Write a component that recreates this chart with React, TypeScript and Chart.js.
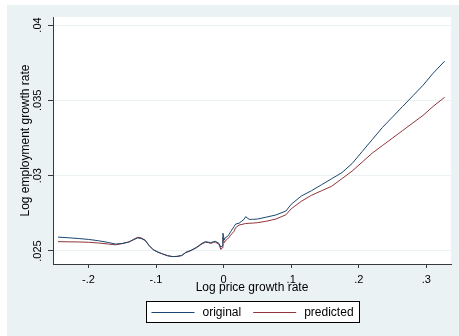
import React, { useEffect, useRef } from "react";
import { Chart, registerables } from "chart.js";

Chart.register(...registerables);

// ---- data ----
const priceGrowth = [
  -0.245, -0.23, -0.215, -0.2, -0.185, -0.17, -0.16, -0.15, -0.14, -0.133,
  -0.127, -0.122, -0.116, -0.11, -0.104, -0.097, -0.09, -0.083, -0.076, -0.069,
  -0.062, -0.056, -0.048, -0.04, -0.032, -0.027, -0.022, -0.019, -0.015, -0.012,
  -0.007, -0.004, -0.002, -0.001, 0.001, 0.003, 0.0055, 0.008, 0.0104, 0.0153,
  0.0178, 0.0228, 0.0302, 0.0327, 0.0377, 0.0426, 0.05, 0.0624, 0.0773, 0.0921,
  0.1, 0.115, 0.13, 0.145, 0.16, 0.175, 0.19, 0.205, 0.22, 0.235,
  0.25, 0.265, 0.28, 0.295, 0.31, 0.327,
];

const original = [
  0.02592, 0.02588, 0.02583, 0.02577, 0.02568, 0.02556, 0.02546, 0.0255, 0.0256, 0.02575,
  0.02587, 0.02583, 0.0257, 0.02535, 0.02508, 0.02492, 0.0248, 0.02469, 0.02463, 0.02464,
  0.0247, 0.02491, 0.02505, 0.02525, 0.02551, 0.02562, 0.02558, 0.02555, 0.02562, 0.02564,
  0.02551, 0.02525, 0.02535, 0.02618, 0.02573, 0.0259, 0.02595, 0.0261, 0.02628, 0.02661,
  0.02679, 0.02684, 0.0271, 0.02728, 0.0271, 0.0271, 0.02712, 0.02724, 0.02739, 0.02765,
  0.0281, 0.02865, 0.029, 0.0294, 0.0298, 0.0302, 0.0308, 0.0316, 0.0324, 0.0332,
  0.0339, 0.0346, 0.0353, 0.036, 0.0368, 0.0376,
];

const predicted = [
  0.02562, 0.02561, 0.0256, 0.02558, 0.02553, 0.02546, 0.02541, 0.02549, 0.0256, 0.02578,
  0.02591, 0.02587, 0.02572, 0.02535, 0.02508, 0.02492, 0.0248, 0.02469, 0.02463, 0.02464,
  0.0247, 0.02489, 0.02503, 0.02522, 0.02547, 0.02558, 0.02555, 0.0255, 0.02558, 0.02558,
  0.02545, 0.0251, 0.02522, 0.0259, 0.02555, 0.0257, 0.02578, 0.0259, 0.02605, 0.0263,
  0.02655, 0.02672, 0.0268, 0.02682, 0.02684, 0.02685, 0.02688, 0.02697, 0.02712, 0.0274,
  0.0278, 0.0283, 0.0287, 0.029, 0.0293, 0.0298, 0.0303, 0.0309, 0.0315, 0.032,
  0.0325, 0.033, 0.0335, 0.034, 0.0346, 0.0352,
];

const seriesNames = ["original", "predicted"];
const xTickValues = [-0.2, -0.1, 0, 0.1, 0.2, 0.3];
const xTickLabels = ["-.2", "-.1", "0", ".1", ".2", ".3"];
const yTickValues = [0.025, 0.03, 0.035, 0.04];
const yTickLabels = [".025", ".03", ".035", ".04"];

const xTitle = "Log price growth rate";
const yTitle = "Log employment growth rate";

// ---- styles ----
const W = 459;
const H = 336;
const FONT = "'Liberation Sans', Arial, sans-serif";
const NAVY = "#1A476F";
const MAROON = "#90353B";
const BLUISH = "#EAF2F3";
const AXIS = "#3a3a3a";

const bgPlugin = {
  id: "stataBg",
  beforeDraw(chart: any) {
    const { ctx, chartArea: a } = chart;
    ctx.save();
    ctx.fillStyle = "#ffffff";
    ctx.fillRect(0, 0, chart.width, chart.height);
    ctx.fillStyle = BLUISH;
    ctx.fillRect(7, 5, chart.width - 7, chart.height - 5);
    ctx.fillStyle = "#ffffff";
    ctx.fillRect(a.left, a.top, a.right - a.left, a.bottom - a.top);
    ctx.restore();
  },
};

const legendPlugin = {
  id: "boxLegend",
  afterDraw(chart: any) {
    const { ctx, chartArea: a } = chart;
    const ds = chart.data.datasets;
    ctx.save();
    ctx.font = `12px ${FONT}`;
    const padL = 5, sample = 43, gap = 8, between = 12, padR = 6;
    const widths = ds.map((d: any) => ctx.measureText(d.label).width);
    let total = padL + padR + between * (ds.length - 1);
    ds.forEach((_: any, i: number) => (total += sample + gap + widths[i]));
    total = Math.round(total);
    const cx = (a.left + a.right) / 2;
    const left = Math.round(cx - total / 2) + 0.5;
    const top = Math.round(chart.scales.x.bottom + 5) + 0.5;
    const h = 21;
    ctx.fillStyle = "#ffffff";
    ctx.fillRect(left, top, total, h);
    ctx.strokeStyle = "#000000";
    ctx.lineWidth = 1;
    ctx.strokeRect(left, top, total, h);
    let x = left + padL;
    const ly = Math.round(top + h / 2);
    ds.forEach((d: any, i: number) => {
      ctx.strokeStyle = d.borderColor;
      ctx.lineWidth = 1;
      ctx.beginPath();
      ctx.moveTo(x, ly + 0.5);
      ctx.lineTo(x + sample, ly + 0.5);
      ctx.stroke();
      ctx.fillStyle = "#000000";
      ctx.textBaseline = "middle";
      ctx.textAlign = "left";
      ctx.fillText(d.label, x + sample + gap, ly + 1);
      x += sample + gap + widths[i] + between;
    });
    ctx.restore();
  },
};

export default function App() {
  const ref = useRef<HTMLCanvasElement | null>(null);

  useEffect(() => {
    if (!ref.current) return;
    const chart = new Chart(ref.current, {
      type: "line",
      data: {
        datasets: [
          {
            label: seriesNames[0],
            data: priceGrowth.map((x, i) => ({ x, y: original[i] })),
            borderColor: NAVY,
            borderWidth: 1,
            pointRadius: 0,
            tension: 0,
            fill: false,
          },
          {
            label: seriesNames[1],
            data: priceGrowth.map((x, i) => ({ x, y: predicted[i] })),
            borderColor: MAROON,
            borderWidth: 1,
            pointRadius: 0,
            tension: 0,
            fill: false,
          },
        ],
      },
      options: {
        responsive: false,
        animation: false,
        devicePixelRatio: 1,
        layout: { padding: { left: 0, top: 17, right: 8, bottom: 40 } },
        plugins: {
          legend: { display: false },
          tooltip: { enabled: false },
        },
        scales: {
          x: {
            type: "linear",
            min: -0.2524,
            max: 0.3364,
            afterBuildTicks: (s: any) => {
              s.ticks = xTickValues.map((v) => ({ value: v }));
            },
            afterFit: (s: any) => {
              s.height = 32;
            },
            ticks: {
              callback: (v: any) => xTickLabels[xTickValues.indexOf(Number(v))] ?? "",
              font: { family: FONT, size: 11 },
              color: "#000000",
              padding: 5,
              maxRotation: 0,
              autoSkip: false,
            },
            grid: {
              drawOnChartArea: false,
              drawTicks: true,
              tickLength: 4,
              tickColor: AXIS,
            },
            border: { display: true, color: AXIS, width: 1 },
            title: {
              display: true,
              text: xTitle,
              color: "#000000",
              font: { family: FONT, size: 12 },
              padding: { top: 0, bottom: 1 },
            },
          },
          y: {
            type: "linear",
            min: 0.024137,
            max: 0.040531,
            afterBuildTicks: (s: any) => {
              s.ticks = yTickValues.map((v) => ({ value: v }));
            },
            afterFit: (s: any) => {
              s.width = 53;
            },
            ticks: {
              callback: (v: any) => yTickLabels[yTickValues.indexOf(Number(v))] ?? "",
              font: { family: FONT, size: 11 },
              color: "#000000",
              minRotation: 90,
              maxRotation: 90,
              crossAlign: "center",
              padding: -1,
              autoSkip: false,
            },
            grid: {
              color: BLUISH,
              lineWidth: 1,
              tickLength: 5,
              tickColor: AXIS,
            },
            border: { display: true, color: AXIS, width: 1 },
            title: {
              display: true,
              text: yTitle,
              color: "#000000",
              font: { family: FONT, size: 12 },
              padding: { top: 18, bottom: 0 },
            },
          },
        },
      },
      plugins: [bgPlugin, legendPlugin],
    } as any);
    return () => chart.destroy();
  }, []);

  return (
    <div style={{ position: "fixed", left: 0, top: 0, width: W, height: H }}>
      <canvas ref={ref} width={W} height={H} style={{ display: "block", width: W, height: H }} />
    </div>
  );
}
